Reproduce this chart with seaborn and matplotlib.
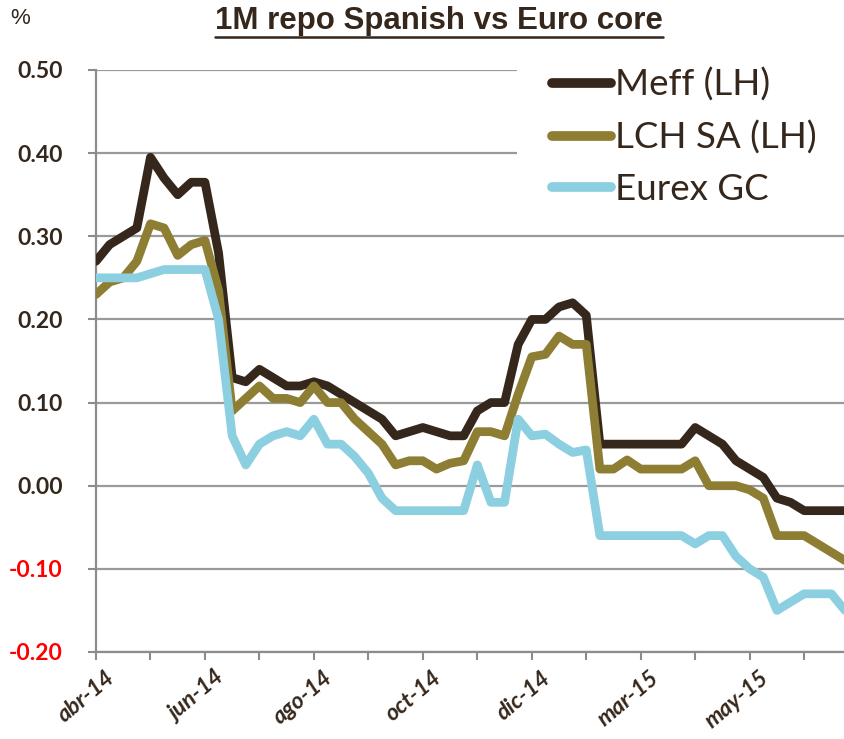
import numpy as np
import pandas as pd
import matplotlib
matplotlib.use("Agg")
import matplotlib.pyplot as plt
import seaborn as sns
from matplotlib.lines import Line2D
from matplotlib.patches import Rectangle
from matplotlib.transforms import blended_transform_factory, ScaledTranslation

# datos semanales
meff = [0.27, 0.29, 0.30, 0.31, 0.395, 0.37, 0.35, 0.365, 0.365, 0.28,
        0.13, 0.125, 0.14, 0.13, 0.12, 0.12, 0.125, 0.12, 0.11, 0.10,
        0.09, 0.08, 0.06, 0.065, 0.07, 0.065, 0.06, 0.06, 0.09, 0.10,
        0.10, 0.17, 0.20, 0.20, 0.215, 0.22, 0.205, 0.05, 0.05, 0.05,
        0.05, 0.05, 0.05, 0.05, 0.07, 0.06, 0.05, 0.03, 0.02, 0.01,
        -0.015, -0.02, -0.03, -0.03, -0.03, -0.03]
lch = [0.23, 0.245, 0.25, 0.27, 0.315, 0.31, 0.277, 0.29, 0.295, 0.235,
       0.09, 0.105, 0.12, 0.105, 0.105, 0.10, 0.12, 0.10, 0.10, 0.08,
       0.065, 0.05, 0.025, 0.03, 0.03, 0.02, 0.027, 0.03, 0.065, 0.065,
       0.06, 0.11, 0.155, 0.158, 0.18, 0.17, 0.17, 0.02, 0.02, 0.031,
       0.02, 0.02, 0.02, 0.02, 0.03, 0.0, 0.0, 0.0, -0.005, -0.015,
       -0.06, -0.06, -0.06, -0.07, -0.08, -0.09]
eurex = [0.25, 0.25, 0.25, 0.25, 0.255, 0.26, 0.26, 0.26, 0.26, 0.20,
         0.06, 0.025, 0.05, 0.06, 0.065, 0.06, 0.08, 0.05, 0.05, 0.035,
         0.015, -0.015, -0.03, -0.03, -0.03, -0.03, -0.03, -0.03, 0.025, -0.02,
         -0.02, 0.08, 0.06, 0.062, 0.05, 0.04, 0.043, -0.06, -0.06, -0.06,
         -0.06, -0.06, -0.06, -0.06, -0.07, -0.06, -0.06, -0.085, -0.10, -0.11,
         -0.15, -0.14, -0.13, -0.13, -0.13, -0.15]
semanas = np.arange(len(meff))
series = ["Meff (LH)", "LCH SA (LH)", "Eurex GC"]
colores = ["#35271b", "#8e7e33", "#8ccfe0"]
etiquetas_x = ["abr-14", "jun-14", "ago-14", "oct-14", "dic-14", "mar-15", "may-15"]
valores_y = [0.50, 0.40, 0.30, 0.20, 0.10, 0.00, -0.10, -0.20]

df = pd.DataFrame({"semana": semanas, series[0]: meff, series[1]: lch, series[2]: eurex})
df = df.melt(id_vars="semana", var_name="serie", value_name="repo")

sns.set_style("white")
plt.rcParams["axes.unicode_minus"] = False
plt.rcParams["font.family"] = ["Lato", "DejaVu Sans"]
texto = "#35271b"

fig = plt.figure(figsize=(8.45, 7.39), dpi=100)
ax = fig.add_axes([96 / 845, 1 - 652 / 739, 1 - 96 / 845, (652 - 70) / 739])

sns.lineplot(data=df, x="semana", y="repo", hue="serie", hue_order=series,
             palette=colores, linewidth=6.3, legend=False, ax=ax, zorder=3)
for ln in ax.lines:
    ln.set_solid_joinstyle("round")
    ln.set_solid_capstyle("round")

ax.set_xlim(0, len(meff) - 1)
ax.set_ylim(-0.2, 0.5)
ax.set_xlabel("")
ax.set_ylabel("")

# rejilla
ax.set_yticks(valores_y)
ax.yaxis.grid(True, color="#9a9a9a", linewidth=1.6)
ax.xaxis.grid(False)
ax.set_axisbelow(True)
for s in ["top", "right"]:
    ax.spines[s].set_visible(False)
for s in ["left", "bottom"]:
    ax.spines[s].set_color("#8c8c8c")
    ax.spines[s].set_linewidth(1.6)
    ax.spines[s].set_zorder(2.5)

# ejes
ax.set_yticklabels([f"{v:.2f}" for v in valores_y], fontsize=16.5, fontweight="bold")
for lbl, v in zip(ax.get_yticklabels(), valores_y):
    lbl.set_color("red" if v < 0 else texto)
ax.tick_params(axis="y", length=6, width=1.5, color="#8c8c8c", pad=18, left=True)

ax.set_xticks(np.arange(0, len(meff) - 1, 8))
ax.set_xticks(np.arange(4, len(meff) - 1, 8), minor=True)
ax.set_xticklabels(etiquetas_x, fontsize=16.5, fontweight="bold", style="italic",
                   rotation=40, ha="right", rotation_mode="anchor", color=texto)
ax.tick_params(axis="x", which="both", length=6, width=1.5, color="#8c8c8c",
               bottom=True, pad=5)
desplaz = ScaledTranslation(9 / 100, 0, fig.dpi_scale_trans)
for lbl in ax.get_xticklabels():
    lbl.set_transform(lbl.get_transform() + desplaz)

# fondo blanco de la leyenda
tr = blended_transform_factory(ax.transAxes, ax.transData)
ax.add_patch(Rectangle(((517 - 96) / 749, 0.32), 1.0, 0.2, transform=tr,
                       facecolor="white", edgecolor="none", zorder=1, clip_on=False))

handles = [Line2D([], [], color=c, linewidth=7, solid_capstyle="round") for c in colores]
leg = ax.legend(handles, series, loc="upper left", bbox_to_anchor=(552 / 845, 1 - 68 / 739),
                bbox_transform=fig.transFigure, frameon=False, borderpad=0,
                borderaxespad=0, fontsize=26.5, handlelength=1.6, handletextpad=0.12,
                labelspacing=0.5)
for t in leg.get_texts():
    t.set_color(texto)

# título subrayado
titulo = fig.text(439 / 845, 1 - 21 / 739, "1M repo Spanish vs Euro core", ha="center",
                  va="center", fontsize=22.5, fontweight="bold", color=texto,
                  family=["Liberation Sans Narrow", "Liberation Sans", "DejaVu Sans"])
fig.text(20 / 845, 1 - 18 / 739, "%", ha="center", va="center", fontsize=16, color=texto,
         family=["Liberation Sans Narrow", "Liberation Sans", "DejaVu Sans"])

fig.canvas.draw()
bb = titulo.get_window_extent().transformed(fig.transFigure.inverted())
fig.add_artist(Line2D([bb.x0, bb.x1], [bb.y0 - 0.002, bb.y0 - 0.002], color=texto,
                      linewidth=1.8, transform=fig.transFigure))

fig.savefig("out.png", dpi=100)
